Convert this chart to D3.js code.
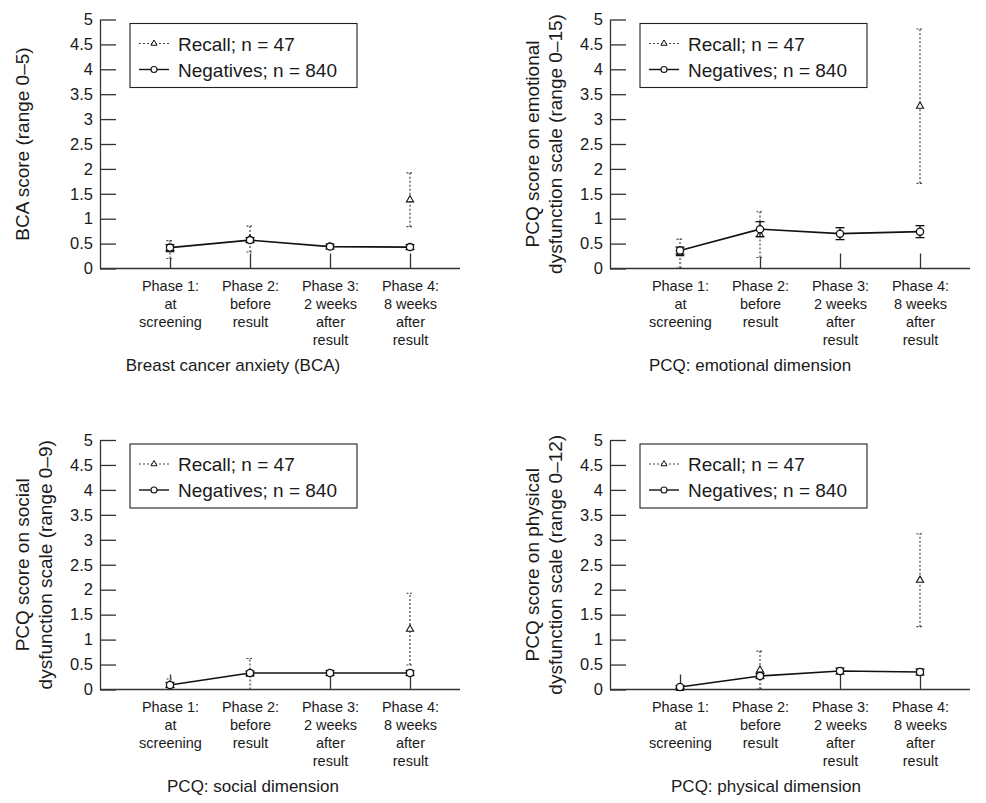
<!DOCTYPE html>
<html>
<head>
<meta charset="utf-8">
<script src="https://cdn.jsdelivr.net/npm/d3@7"></script>
<style>
  body { margin: 0; background: #fff; }
  svg text { font-family: "Liberation Sans", Arial, Helvetica, sans-serif; fill: #1a1a1a; }
</style>
</head>
<body>
<div id="chart"></div>
<script>
// categories / ticks
const phaseLabels = [
  ['Phase 1:', 'at', 'screening'],
  ['Phase 2:', 'before', 'result'],
  ['Phase 3:', '2 weeks', 'after', 'result'],
  ['Phase 4:', '8 weeks', 'after', 'result']
]
const yTicks = [0, 0.5, 1, 1.5, 2, 2.5, 3, 3.5, 4, 4.5, 5]
const legendLabels = ['Recall; n = 47', 'Negatives; n = 840']

// series: means and error half-widths (recall has no phase 3 value)
const bcaNeg = [0.42, 0.57, 0.44, 0.43]
const bcaNegErr = [0.06, 0.05, 0.05, 0.05]
const bcaRecall = [0.38, 0.59, null, 1.38]
const bcaRecallErr = [0.18, 0.26, null, 0.54]

const emoNeg = [0.36, 0.79, 0.70, 0.74]
const emoNegErr = [0.07, 0.15, 0.12, 0.12]
const emoRecall = [0.30, 0.68, null, 3.26]
const emoRecallErr = [0.29, 0.46, null, 1.55]

const socNeg = [0.09, 0.33, 0.33, 0.33]
const socNegErr = [0.05, 0.04, 0.05, 0.05]
const socRecall = [0.08, 0.31, null, 1.21]
const socRecallErr = [0.13, 0.31, null, 0.72]

const phyNeg = [0.05, 0.27, 0.37, 0.35]
const phyNegErr = [0.03, 0.05, 0.06, 0.06]
const phyRecall = [0.02, 0.39, null, 2.19]
const phyRecallErr = [0.02, 0.38, null, 0.93]

const panelTitles = ['Breast cancer anxiety (BCA)', 'PCQ: emotional dimension', 'PCQ: social dimension', 'PCQ: physical dimension']
const yTitles = [
  ['BCA score (range 0\u20135)'],
  ['PCQ score on emotional', 'dysfunction scale (range 0\u201315)'],
  ['PCQ score on social', 'dysfunction scale (range 0\u20139)'],
  ['PCQ score on physical', 'dysfunction scale (range 0\u201312)']
]

const panels = [
  { ax: 100, y0: 268.5, y5: 19.5, titleDx: 133, neg: bcaNeg, negErr: bcaNegErr, rec: bcaRecall, recErr: bcaRecallErr },
  { ax: 610, y0: 268.5, y5: 19.5, titleDx: 140, neg: emoNeg, negErr: emoNegErr, rec: emoRecall, recErr: emoRecallErr },
  { ax: 100, y0: 689.5, y5: 440, titleDx: 153, neg: socNeg, negErr: socNegErr, rec: socRecall, recErr: socRecallErr },
  { ax: 610, y0: 689.5, y5: 440, titleDx: 156, neg: phyNeg, negErr: phyNegErr, rec: phyRecall, recErr: phyRecallErr }
]

const width = 986
const height = 803
const axisLen = 360

const svg = d3.select('#chart').append('svg')
  .attr('width', width)
  .attr('height', height)

const tri = d3.symbol().type(d3.symbolTriangle).size(22)

panels.forEach(function(p, pi) {
  const g = svg.append('g')
  const idx = d3.range(phaseLabels.length)

  const x = d3.scalePoint().domain(idx).range([p.ax + 70, p.ax + 310])
  const y = d3.scaleLinear().domain([0, 5]).range([p.y0, p.y5])

  // y axis, inward ticks
  const yAxis = d3.axisLeft(y)
    .tickValues(yTicks)
    .tickFormat(d3.format('~g'))
    .tickSize(-16)
    .tickSizeOuter(0)
    .tickPadding(7)
  const yg = g.append('g').attr('transform', 'translate(' + p.ax + ',0)').call(yAxis)
  yg.selectAll('path, line').attr('stroke', '#333').attr('stroke-width', 1.3)
  yg.selectAll('text').style('font-size', '16.5px').attr('fill', '#1a1a1a')

  // x axis line + inward category ticks
  const xAxis = d3.axisBottom(x).tickSize(-15).tickSizeOuter(0).tickFormat('')
  const xg = g.append('g').attr('transform', 'translate(0,' + p.y0 + ')').call(xAxis)
  xg.select('.domain').remove()
  xg.selectAll('line').attr('stroke', '#333').attr('stroke-width', 1.3)
  xg.selectAll('.tick text').remove()
  xg.selectAll('.tick').append('text')
    .attr('text-anchor', 'middle')
    .style('font-size', '14.5px')
    .each(function(d) {
      const t = d3.select(this)
      phaseLabels[d].forEach(function(line, li) {
        t.append('tspan').attr('x', 0).attr('y', 22 + li * 18).text(line)
      })
    })

  // y title
  yTitles[pi].forEach(function(line, li) {
    g.append('text')
      .attr('transform', 'translate(' + (p.ax - 78 + li * 23) + ',' + ((p.y0 + p.y5) / 2) + ') rotate(-90)')
      .attr('text-anchor', 'middle')
      .attr('dy', '0.35em')
      .style('font-size', '19px')
      .text(line)
  })

  // panel title
  g.append('text')
    .attr('x', p.ax + p.titleDx)
    .attr('y', p.y0 + 102)
    .attr('text-anchor', 'middle')
    .style('font-size', '17px')
    .text(panelTitles[pi])

  // recall: dotted error bars (over a white underlay) + triangles
  const recIdx = idx.filter(function(i) { return p.rec[i] !== null })
  recIdx.forEach(function(i) {
    const lo = Math.max(0, p.rec[i] - p.recErr[i])
    const hi = p.rec[i] + p.recErr[i]
    const cx = x(i)
    g.append('line')
      .attr('x1', cx).attr('x2', cx).attr('y1', y(lo) - 0.7).attr('y2', y(hi))
      .attr('stroke', '#fff').attr('stroke-width', 2.6)
    g.append('line')
      .attr('x1', cx).attr('x2', cx).attr('y1', y(lo)).attr('y2', y(hi))
      .attr('stroke', '#444').attr('stroke-width', 1.2).attr('stroke-dasharray', '2,2')
    ;[lo, hi].forEach(function(v) {
      if (v <= 0) return
      g.append('line')
        .attr('x1', cx - 3.5).attr('x2', cx + 3.5).attr('y1', y(v)).attr('y2', y(v))
        .attr('stroke', '#444').attr('stroke-width', 1.1).attr('stroke-dasharray', '2,1.5')
    })
  })

  // x axis line drawn after the underlay so it stays intact
  g.append('line')
    .attr('x1', p.ax).attr('x2', p.ax + axisLen)
    .attr('y1', p.y0).attr('y2', p.y0)
    .attr('stroke', '#333').attr('stroke-width', 1.3)

  g.selectAll('.tri').data(recIdx).enter().append('path')
    .attr('class', 'tri')
    .attr('d', tri)
    .attr('transform', function(i) { return 'translate(' + x(i) + ',' + y(p.rec[i]) + ')' })
    .attr('fill', '#fff').attr('stroke', '#111').attr('stroke-width', 1.1)

  // negatives: solid line, error bars, open circles
  const line = d3.line().x(function(i) { return x(i) }).y(function(i) { return y(p.neg[i]) })
  g.append('path').datum(idx).attr('d', line)
    .attr('fill', 'none').attr('stroke', '#111').attr('stroke-width', 1.6)
  idx.forEach(function(i) {
    const lo = Math.max(0, p.neg[i] - p.negErr[i])
    const hi = p.neg[i] + p.negErr[i]
    const cx = x(i)
    g.append('line')
      .attr('x1', cx).attr('x2', cx).attr('y1', y(lo)).attr('y2', y(hi))
      .attr('stroke', '#111').attr('stroke-width', 1.3)
    ;[lo, hi].forEach(function(v) {
      g.append('line')
        .attr('x1', cx - 4.5).attr('x2', cx + 4.5).attr('y1', y(v)).attr('y2', y(v))
        .attr('stroke', '#111').attr('stroke-width', 1.3)
    })
  })
  g.selectAll('.neg').data(idx).enter().append('circle')
    .attr('class', 'neg')
    .attr('cx', function(i) { return x(i) })
    .attr('cy', function(i) { return y(p.neg[i]) })
    .attr('r', 3.6)
    .attr('fill', '#fff').attr('stroke', '#111').attr('stroke-width', 1.3)

  // legend
  const lx = p.ax + 30
  const ly = p.y5 + 4
  const lg = g.append('g').attr('transform', 'translate(' + lx + ',' + ly + ')')
  lg.append('rect').attr('width', 227).attr('height', 64)
    .attr('fill', '#fff').attr('stroke', '#222').attr('stroke-width', 1.1)
  legendLabels.forEach(function(lab, li) {
    const ry = 20 + li * 26
    lg.append('line').attr('x1', 9).attr('x2', 39).attr('y1', ry).attr('y2', ry)
      .attr('stroke', li === 0 ? '#444' : '#111')
      .attr('stroke-width', li === 0 ? 1.1 : 1.4)
      .attr('stroke-dasharray', li === 0 ? '2,2' : null)
    if (li === 0) {
      lg.append('path').attr('d', d3.symbol().type(d3.symbolTriangle).size(16))
        .attr('transform', 'translate(24,' + ry + ')')
        .attr('fill', '#fff').attr('stroke', '#111').attr('stroke-width', 1)
    } else {
      lg.append('circle').attr('cx', 24).attr('cy', ry).attr('r', 3)
        .attr('fill', '#fff').attr('stroke', '#111').attr('stroke-width', 1.1)
    }
    lg.append('text').attr('x', 48).attr('y', ry + 7)
      .style('font-size', '19px')
      .text(lab)
  })
})
</script>
</body>
</html>
